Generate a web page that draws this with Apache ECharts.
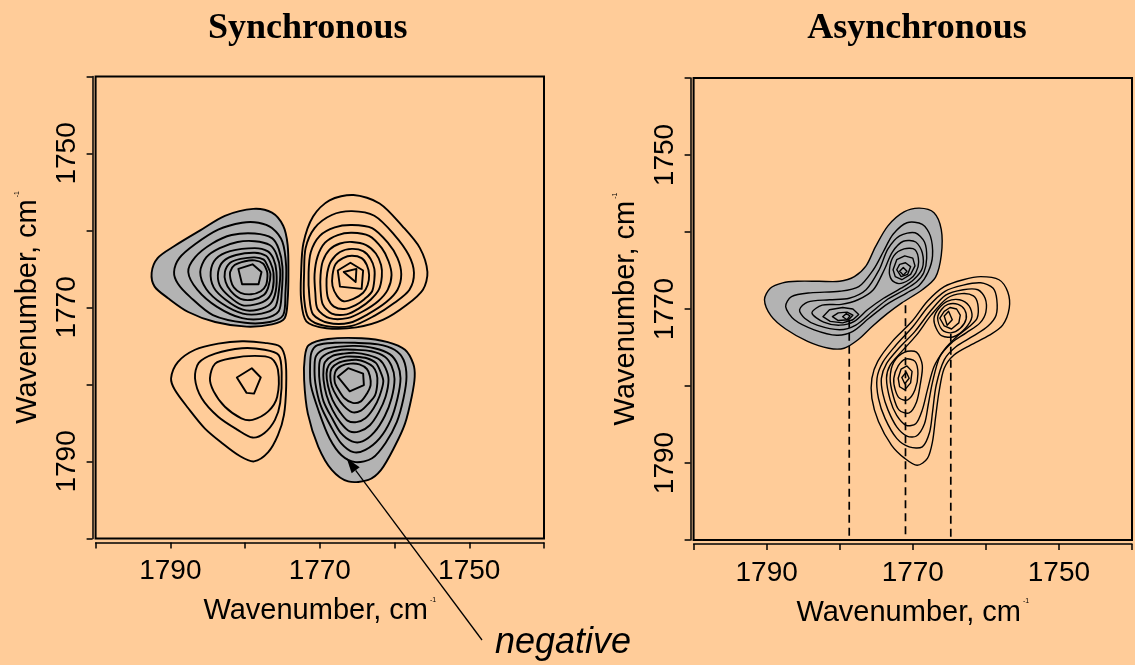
<!DOCTYPE html>
<html>
<head>
<meta charset="utf-8">
<title>Synchronous and asynchronous 2D correlation maps</title>
<script src="https://cdn.jsdelivr.net/npm/echarts@6/dist/echarts.min.js"></script>
<style>
  html, body { margin: 0; padding: 0; background: #FFCC99; }
  #chart { width: 1135px; height: 665px; }
</style>
</head>
<body>
<div id="chart"></div>
<script>
// ---- axes (wavenumber, cm-1) ----
const axisMin = 1740;
const axisMax = 1800;
const tickStep = 10;
const tickLabels = [1750, 1770, 1790];

// ---- synchronous map: contour lines as [x, y] wavenumber pairs, outermost level first ----
// negative cross peak (x ~1779, y ~1766)
const syncUpperLeft = [
  [[1792.5,1765.5],[1791.7,1763.6],[1789.4,1762.0],[1786.0,1760.0],[1782.7,1758.1],[1778.9,1757.2],[1776.4,1757.7],[1774.9,1759.4],[1774.3,1761.9],[1774.2,1765.5],[1774.3,1769.0],[1774.7,1771.4],[1776.4,1772.2],[1779.8,1772.5],[1784.0,1771.9],[1787.6,1770.6],[1790.3,1768.8],[1792.1,1767.3]],
  [[1789.5,1765.4],[1788.8,1763.6],[1786.7,1761.8],[1783.6,1759.9],[1780.4,1759.0],[1778.2,1759.0],[1776.4,1759.7],[1775.0,1761.5],[1774.5,1764.7],[1774.6,1768.1],[1774.9,1771.0],[1776.7,1771.9],[1780.0,1772.0],[1784.3,1771.0],[1787.4,1768.6],[1789.0,1766.9]],
  [[1787.6,1765.4],[1786.7,1763.5],[1784.4,1761.7],[1781.8,1760.6],[1778.7,1760.4],[1776.4,1761.0],[1775.5,1762.4],[1775.0,1764.7],[1775.1,1768.1],[1775.5,1770.5],[1777.2,1771.4],[1780.4,1771.4],[1783.8,1769.9],[1786.4,1767.7]],
  [[1786.0,1765.4],[1785.2,1763.5],[1783.4,1762.3],[1781.0,1761.5],[1778.7,1761.4],[1776.7,1761.9],[1775.8,1763.1],[1775.3,1765.2],[1775.5,1768.0],[1776.0,1770.0],[1777.8,1770.8],[1780.3,1770.8],[1783.1,1769.5],[1785.2,1767.6]],
  [[1784.6,1765.4],[1783.9,1763.7],[1782.0,1762.7],[1778.7,1762.3],[1777.0,1762.7],[1776.2,1763.7],[1775.8,1765.4],[1775.9,1767.9],[1776.6,1769.5],[1778.3,1770.3],[1780.3,1770.3],[1782.6,1769.0],[1784.2,1767.4]],
  [[1783.6,1765.4],[1782.9,1764.0],[1781.2,1763.2],[1778.7,1762.9],[1777.2,1763.3],[1776.6,1764.2],[1776.2,1765.5],[1776.3,1767.6],[1777.0,1768.9],[1778.6,1769.6],[1780.4,1769.7],[1782.2,1768.5],[1783.4,1767.1]],
  [[1782.7,1765.4],[1782.0,1764.2],[1780.6,1763.7],[1778.7,1763.5],[1777.5,1763.8],[1777.0,1764.6],[1776.6,1765.7],[1776.9,1767.4],[1777.5,1768.4],[1779.0,1769.0],[1780.6,1768.9],[1781.9,1767.9],[1782.6,1766.7]],
  [[1782.0,1765.4],[1781.4,1764.5],[1780.0,1764.0],[1778.7,1763.9],[1777.6,1764.3],[1777.1,1765.2],[1777.0,1765.9],[1777.2,1767.1],[1777.9,1767.9],[1779.2,1768.3],[1780.6,1768.1],[1781.5,1767.4],[1781.9,1766.5]],
  [[1780.9,1765.0],[1779.0,1764.4],[1777.8,1765.4],[1778.2,1767.0],[1780.4,1767.0]]
];
// positive auto peak (1766, 1766)
const syncUpperRight = [
  [[1765.5,1755.4],[1762.0,1756.5],[1758.9,1759.5],[1756.6,1762.3],[1755.6,1765.4],[1756.2,1767.7],[1758.4,1769.7],[1761.5,1771.6],[1765.1,1772.6],[1769.1,1772.7],[1771.8,1771.8],[1772.5,1769.0],[1772.5,1765.5],[1772.2,1761.7],[1770.9,1758.2],[1768.7,1756.1]],
  [[1765.7,1757.5],[1762.7,1758.1],[1760.0,1760.6],[1758.1,1763.2],[1757.4,1765.5],[1758.0,1767.7],[1760.0,1769.4],[1762.7,1771.1],[1765.7,1772.4],[1769.3,1772.4],[1771.5,1771.4],[1772.1,1768.8],[1772.1,1765.5],[1771.9,1762.3],[1770.7,1759.7],[1768.4,1758.0]],
  [[1765.7,1759.3],[1763.0,1759.7],[1760.9,1761.6],[1759.6,1763.6],[1759.1,1765.7],[1759.6,1767.7],[1761.1,1769.3],[1763.6,1770.9],[1766.0,1772.0],[1768.9,1772.0],[1770.9,1770.9],[1771.4,1768.6],[1771.5,1765.5],[1771.2,1762.8],[1770.0,1760.7],[1768.0,1759.6]],
  [[1765.7,1760.3],[1763.4,1760.7],[1761.7,1762.3],[1760.8,1764.0],[1760.4,1765.8],[1760.9,1767.7],[1762.2,1769.2],[1764.2,1770.5],[1766.3,1771.4],[1768.7,1771.4],[1770.3,1770.2],[1770.6,1768.1],[1770.7,1765.7],[1770.3,1763.4],[1769.3,1761.6],[1767.6,1760.6]],
  [[1765.7,1761.5],[1763.8,1761.9],[1762.5,1763.0],[1761.8,1764.5],[1761.7,1766.0],[1762.1,1767.7],[1763.2,1769.0],[1764.7,1770.1],[1766.4,1770.9],[1768.4,1770.8],[1769.6,1769.6],[1769.9,1767.7],[1769.9,1765.8],[1769.6,1764.0],[1768.7,1762.5],[1767.3,1761.7]],
  [[1765.7,1762.4],[1764.2,1762.7],[1763.2,1763.7],[1762.7,1765.0],[1762.7,1766.4],[1763.0,1767.9],[1764.0,1768.9],[1765.2,1769.7],[1766.7,1770.2],[1768.1,1769.9],[1768.9,1768.8],[1769.1,1767.2],[1769.0,1765.5],[1768.5,1764.0],[1767.3,1762.8]],
  [[1765.7,1763.3],[1764.4,1763.6],[1763.7,1764.5],[1763.4,1765.8],[1763.6,1767.1],[1764.2,1768.1],[1765.5,1768.9],[1766.8,1769.2],[1767.7,1768.5],[1768.3,1767.2],[1768.3,1765.8],[1767.9,1764.4],[1766.9,1763.6]],
  [[1767.6,1765.2],[1765.9,1764.2],[1764.2,1765.2],[1764.4,1767.6],[1767.3,1767.3]],
  [[1766.8,1765.4],[1765.1,1765.0],[1765.2,1766.7]]
];
// positive auto peak (1779, 1780)
const syncLowerLeft = [
  [[1789.9,1779.2],[1789.0,1777.1],[1786.7,1775.5],[1783.6,1774.7],[1780.4,1774.4],[1777.4,1774.6],[1775.3,1775.1],[1774.6,1776.8],[1774.5,1780.3],[1774.8,1784.0],[1775.6,1786.6],[1776.9,1788.8],[1778.8,1790.0],[1780.7,1789.3],[1783.1,1787.6],[1785.4,1785.7],[1787.6,1783.1],[1789.4,1780.7]],
  [[1786.7,1779.2],[1786.2,1777.2],[1784.0,1776.0],[1780.4,1775.3],[1777.4,1775.5],[1775.5,1776.2],[1775.1,1778.5],[1775.3,1782.4],[1776.0,1784.6],[1777.4,1786.3],[1779.0,1786.9],[1781.0,1785.9],[1783.6,1784.2],[1785.8,1781.8]],
  [[1784.7,1779.2],[1784.0,1777.3],[1781.8,1776.6],[1778.7,1776.3],[1776.5,1776.6],[1775.6,1778.1],[1775.7,1781.6],[1776.9,1783.5],[1779.0,1784.6],[1780.5,1784.4],[1782.7,1782.9],[1784.2,1780.9]],
  [[1781.1,1779.1],[1779.1,1777.9],[1777.9,1779.1],[1778.8,1781.2],[1779.8,1781.1]]
];
// negative cross peak (x ~1766, y ~1779)
const syncLowerRight = [
  [[1772.0,1776.4],[1771.5,1774.9],[1768.9,1774.1],[1764.4,1774.0],[1760.9,1774.5],[1758.6,1775.5],[1757.5,1777.3],[1757.3,1779.0],[1757.7,1781.6],[1758.6,1785.1],[1760.0,1788.1],[1761.8,1791.1],[1763.5,1792.4],[1766.2,1792.6],[1768.4,1791.1],[1770.2,1788.1],[1771.6,1783.8],[1772.1,1779.4]],
  [[1771.1,1775.8],[1770.3,1774.9],[1768.0,1774.6],[1765.3,1774.6],[1762.2,1774.8],[1760.0,1775.5],[1758.8,1776.8],[1758.4,1779.0],[1758.8,1781.8],[1759.7,1784.9],[1761.2,1787.6],[1763.0,1789.6],[1765.2,1790.1],[1767.1,1789.2],[1768.7,1787.0],[1770.1,1783.6],[1771.2,1780.1],[1771.3,1777.5]],
  [[1770.5,1776.3],[1769.3,1775.4],[1767.3,1775.1],[1765.3,1775.0],[1762.7,1775.3],[1760.6,1776.1],[1759.6,1777.4],[1759.2,1779.2],[1759.6,1781.8],[1760.5,1784.6],[1762.0,1787.0],[1763.9,1788.5],[1765.5,1788.8],[1767.1,1787.7],[1768.5,1785.5],[1769.9,1782.7],[1770.6,1779.8],[1770.7,1777.6]],
  [[1769.9,1776.7],[1768.8,1775.9],[1767.1,1775.5],[1765.3,1775.5],[1763.1,1775.7],[1761.3,1776.4],[1760.4,1777.6],[1760.0,1779.3],[1760.4,1781.8],[1761.3,1784.1],[1762.7,1786.2],[1764.3,1787.4],[1765.7,1787.4],[1767.2,1786.3],[1768.3,1784.5],[1769.5,1782.2],[1770.0,1779.8],[1770.1,1777.9]],
  [[1769.3,1777.1],[1768.3,1776.3],[1766.8,1776.0],[1765.3,1775.9],[1763.5,1776.2],[1762.0,1776.8],[1761.2,1777.9],[1760.8,1779.4],[1761.2,1781.6],[1762.1,1783.6],[1763.3,1785.3],[1764.7,1786.1],[1766.0,1786.1],[1767.2,1785.0],[1768.3,1783.3],[1769.1,1781.4],[1769.5,1779.4],[1769.5,1778.0]],
  [[1768.8,1777.5],[1767.9,1776.8],[1766.5,1776.4],[1765.2,1776.4],[1763.7,1776.6],[1762.5,1777.2],[1761.9,1778.3],[1761.5,1779.6],[1762.0,1781.5],[1762.8,1783.1],[1763.9,1784.4],[1765.1,1784.9],[1766.3,1784.7],[1767.3,1783.6],[1768.3,1782.0],[1768.9,1780.2],[1769.1,1778.6]],
  [[1768.4,1777.9],[1767.5,1777.2],[1766.3,1776.9],[1765.1,1776.8],[1763.9,1777.1],[1762.9,1777.7],[1762.4,1778.6],[1762.3,1779.8],[1762.6,1781.4],[1763.5,1782.5],[1764.5,1783.4],[1765.7,1783.6],[1766.8,1782.8],[1767.7,1781.6],[1768.4,1780.2],[1768.6,1778.9]],
  [[1767.9,1778.3],[1767.1,1777.6],[1765.9,1777.3],[1764.7,1777.4],[1763.7,1778.0],[1763.3,1778.9],[1763.2,1780.1],[1763.7,1781.2],[1764.5,1782.2],[1765.6,1782.4],[1766.7,1781.8],[1767.5,1780.7],[1768.0,1779.7]],
  [[1767.6,1779.0],[1766.2,1777.9],[1764.2,1778.6],[1764.1,1780.1],[1766.0,1780.9]]
];

// ---- asynchronous map ----
// negative region: peaks near (1779, 1771) and (1771, 1765)
const asyncNegative = [
  [[1790.3,1768.8],[1789.5,1767.3],[1787.8,1766.6],[1785.8,1766.4],[1782.8,1766.4],[1780.0,1766.4],[1778.0,1765.8],[1776.4,1764.4],[1775.1,1761.9],[1773.4,1759.2],[1771.2,1757.4],[1769.1,1756.9],[1767.1,1757.5],[1766.1,1759.7],[1766.1,1763.0],[1766.9,1765.9],[1768.7,1767.5],[1771.5,1769.2],[1773.5,1770.6],[1775.6,1772.3],[1777.5,1774.0],[1779.4,1775.1],[1781.5,1775.1],[1784.4,1774.2],[1787.4,1772.6],[1789.4,1770.9]],
  [[1787.4,1769.7],[1786.6,1768.4],[1784.0,1767.9],[1780.0,1767.7],[1777.4,1767.1],[1775.4,1764.9],[1774.0,1762.5],[1772.7,1760.3],[1770.8,1758.8],[1768.7,1759.0],[1767.6,1760.5],[1767.3,1763.1],[1767.9,1765.2],[1769.1,1766.9],[1770.8,1767.9],[1773.4,1769.3],[1776.0,1771.2],[1778.2,1772.9],[1780.4,1773.4],[1783.5,1772.7],[1786.2,1771.4]],
  [[1785.5,1770.1],[1784.4,1769.1],[1781.4,1768.8],[1778.7,1768.6],[1776.4,1767.5],[1774.6,1764.9],[1773.4,1762.2],[1771.8,1760.5],[1769.7,1760.1],[1768.4,1761.3],[1768.1,1763.4],[1768.5,1765.3],[1769.5,1766.5],[1771.1,1767.5],[1773.4,1768.7],[1775.5,1770.3],[1777.8,1772.1],[1780.0,1772.7],[1783.1,1772.1],[1784.8,1771.2]],
  [[1783.8,1770.5],[1782.4,1769.5],[1779.8,1769.4],[1777.5,1768.8],[1775.4,1767.5],[1773.9,1764.9],[1772.8,1762.6],[1771.3,1761.2],[1769.6,1761.3],[1768.7,1762.7],[1768.7,1764.7],[1769.9,1766.2],[1771.6,1767.3],[1774.0,1768.6],[1776.2,1770.1],[1778.0,1771.6],[1780.0,1772.1],[1782.2,1771.7]],
  [[1773.2,1764.9],[1772.6,1763.1],[1771.2,1762.2],[1769.7,1762.3],[1769.2,1763.9],[1769.6,1765.3],[1770.5,1766.2],[1771.9,1766.7],[1772.9,1766.2]],
  [[1772.7,1764.9],[1772.2,1763.6],[1771.1,1763.1],[1770.0,1763.4],[1769.7,1764.4],[1770.3,1765.5],[1771.5,1766.2],[1772.4,1765.8]],
  [[1772.2,1764.9],[1771.8,1764.2],[1771.0,1764.0],[1770.3,1764.5],[1770.7,1765.5],[1771.6,1765.8]],
  [[1771.8,1765.1],[1771.3,1764.6],[1770.8,1765.1],[1771.3,1765.6]],
  [[1782.3,1771.0],[1781.4,1770.1],[1779.6,1769.8],[1778.2,1770.0],[1777.4,1770.7],[1778.2,1771.4],[1779.6,1771.8],[1781.3,1771.6]],
  [[1781.0,1771.0],[1780.2,1770.5],[1779.0,1770.4],[1778.2,1770.8],[1778.8,1771.4],[1780.2,1771.5]],
  [[1779.6,1771.0],[1779.1,1770.6],[1778.6,1770.9],[1779.0,1771.4]]
];
// positive region: peaks near (1765, 1771) and (1771, 1779)
const asyncPositive = [
  [[1775.6,1779.0],[1774.8,1776.8],[1772.8,1774.2],[1770.1,1771.6],[1768.0,1769.0],[1765.7,1767.1],[1763.1,1766.2],[1760.7,1765.8],[1758.2,1766.2],[1757.0,1767.8],[1756.8,1769.9],[1757.7,1772.1],[1759.5,1773.4],[1762.1,1774.7],[1764.4,1776.0],[1765.7,1777.7],[1766.4,1780.7],[1766.9,1784.2],[1767.3,1787.2],[1768.0,1789.4],[1769.4,1790.3],[1771.1,1789.4],[1772.9,1787.7],[1774.7,1784.6],[1775.6,1781.6]],
  [[1774.9,1779.0],[1774.1,1776.9],[1772.4,1774.8],[1770.0,1772.3],[1767.9,1769.7],[1765.6,1767.7],[1763.1,1766.9],[1760.7,1766.6],[1759.0,1767.3],[1758.5,1768.8],[1758.6,1770.8],[1759.7,1772.2],[1761.7,1773.5],[1764.1,1774.9],[1765.7,1776.6],[1766.8,1779.9],[1767.3,1783.4],[1767.7,1786.0],[1768.7,1787.9],[1770.5,1787.9],[1772.2,1786.8],[1773.8,1784.2],[1774.7,1781.6]],
  [[1774.3,1779.0],[1773.6,1777.1],[1772.0,1775.2],[1769.7,1772.9],[1767.6,1770.3],[1765.5,1768.2],[1763.1,1767.5],[1761.1,1767.5],[1760.1,1768.6],[1760.0,1770.4],[1760.8,1771.8],[1762.7,1773.1],[1764.7,1774.4],[1766.3,1776.2],[1767.3,1779.5],[1767.9,1782.5],[1768.4,1784.9],[1769.5,1786.5],[1770.8,1786.5],[1772.2,1785.3],[1773.4,1783.1],[1774.1,1781.0]],
  [[1773.6,1779.0],[1773.1,1777.3],[1771.6,1775.6],[1769.5,1773.4],[1767.5,1770.8],[1765.3,1768.6],[1763.3,1768.0],[1761.7,1768.3],[1761.1,1769.4],[1761.2,1771.2],[1762.3,1772.3],[1764.0,1773.6],[1765.7,1775.3],[1767.1,1777.5],[1768.0,1780.5],[1768.7,1783.1],[1769.6,1784.9],[1770.9,1785.1],[1772.2,1783.8],[1773.1,1781.8]],
  [[1767.1,1771.2],[1766.5,1770.0],[1765.3,1769.0],[1763.6,1768.8],[1762.3,1769.6],[1761.9,1771.0],[1762.8,1772.5],[1764.4,1773.6],[1766.0,1773.5],[1766.8,1772.5]],
  [[1766.6,1771.2],[1766.1,1770.1],[1765.2,1769.4],[1763.8,1769.4],[1762.9,1770.1],[1762.7,1771.3],[1763.5,1772.5],[1764.8,1773.1],[1766.0,1772.7]],
  [[1766.3,1771.2],[1765.7,1770.3],[1764.9,1769.8],[1764.0,1770.0],[1763.5,1770.8],[1763.7,1771.8],[1764.7,1772.6],[1765.7,1772.2]],
  [[1765.7,1770.9],[1765.1,1770.3],[1764.6,1771.4],[1765.3,1772.1]],
  [[1773.1,1779.0],[1772.6,1776.9],[1771.1,1775.6],[1769.5,1775.6],[1768.7,1777.3],[1769.0,1779.9],[1769.5,1782.1],[1770.5,1783.5],[1771.9,1783.1],[1772.7,1781.2]],
  [[1772.6,1779.0],[1772.0,1777.4],[1771.0,1776.5],[1769.7,1776.8],[1769.3,1778.4],[1769.7,1780.5],[1770.7,1781.8],[1771.8,1781.6],[1772.4,1780.5]],
  [[1772.0,1779.0],[1771.6,1777.8],[1770.8,1777.4],[1770.1,1778.1],[1770.3,1779.6],[1771.1,1780.5],[1771.8,1780.1]],
  [[1771.5,1778.9],[1770.9,1778.2],[1770.5,1779.0],[1771.1,1779.7]]
];

// vertical guides dropped from the asynchronous peaks: x position and upper end
const guideX = [1778.7, 1771.0, 1764.8];
const guideTop = [1771.4, 1769.5, 1773.2];

// point on the negative synchronous lobe the annotation arrow points at
const arrowTarget = [1766.4, 1789.6];

// ---- drawing ----
const INK = '#000000';
const GREY = '#B3B3B3';
const SANS = '"Liberation Sans", Arial, Helvetica, sans-serif';
const SERIF = '"Liberation Serif", "Times New Roman", Times, serif';

const chart = echarts.init(document.getElementById('chart'), null, { renderer: 'canvas' });

// one custom series per panel; each item is one closed contour level
function contourSeries(lobes, panel, lineWidth) {
  const items = [];
  lobes.forEach(lobe => {
    lobe.levels.forEach((pts, k) => items.push({ pts: pts, filled: lobe.negative && k === 0 }));
  });
  return {
    type: 'custom',
    coordinateSystem: 'cartesian2d',
    xAxisIndex: panel,
    yAxisIndex: panel,
    silent: true,
    animation: false,
    z: 2,
    data: items.map(it => it.pts[0]),
    renderItem: function (params, api) {
      const it = items[params.dataIndex];
      const points = it.pts.map(p => api.coord(p));
      return {
        type: 'polygon',
        shape: { points: points, smooth: points.length > 8 ? 0.3 : 0 },
        style: {
          fill: it.filled ? GREY : 'none',
          stroke: INK,
          lineWidth: lineWidth,
          lineJoin: 'round'
        }
      };
    }
  };
}

function guideSeries(panel) {
  return guideX.map((x, i) => ({
    type: 'line',
    xAxisIndex: panel,
    yAxisIndex: panel,
    data: [[x, guideTop[i]], [x, axisMax]],
    symbol: 'none',
    silent: true,
    animation: false,
    z: 3,
    lineStyle: { color: INK, width: 1.7, type: [8, 5] }
  }));
}

const axisName = '{main|Wavenumber, cm}{sup|-1}';
const nameRich = {
  main: { fontSize: 29, fontFamily: SANS, color: INK },
  sup: { fontSize: 7, fontFamily: SANS, color: INK, verticalAlign: 'top', padding: [0, 0, 12, 2] }
};
const labelFmt = v => (tickLabels.indexOf(v) >= 0 ? String(v) : '');

function xAxisFor(panel) {
  return {
    gridIndex: panel, type: 'value', min: axisMin, max: axisMax, interval: tickStep,
    inverse: true, position: 'bottom', offset: 4,
    axisLine: { show: true, onZero: false, lineStyle: { color: INK, width: 1.5 } },
    axisTick: { show: true, inside: false, length: 6, lineStyle: { color: INK, width: 1.5 } },
    axisLabel: { show: true, margin: 15, fontSize: 28, fontFamily: SANS, color: INK, formatter: labelFmt },
    splitLine: { show: false },
    name: axisName, nameLocation: 'middle', nameGap: 54, nameMoveOverlap: false,
    nameTextStyle: { rich: nameRich }
  };
}

function yAxisFor(panel) {
  return {
    gridIndex: panel, type: 'value', min: axisMin, max: axisMax, interval: tickStep,
    inverse: true, position: 'left', offset: 3,
    axisLine: { show: true, onZero: false, lineStyle: { color: INK, width: 1.5 } },
    axisTick: { show: true, inside: false, length: 6, lineStyle: { color: INK, width: 1.5 } },
    axisLabel: { show: true, rotate: 90, margin: 11.5, fontSize: 28, fontFamily: SANS, color: INK, formatter: labelFmt },
    splitLine: { show: false },
    name: axisName, nameLocation: 'middle', nameGap: 50, nameMoveOverlap: false,
    nameTextStyle: { rich: nameRich }
  };
}

const option = {
  backgroundColor: '#FFCC99',
  animation: false,
  grid: [
    { left: 95.6, top: 76.4, width: 448.4, height: 462, show: true, borderColor: INK, borderWidth: 2, backgroundColor: 'transparent', containLabel: false },
    { left: 693.6, top: 78, width: 449, height: 462, show: true, borderColor: INK, borderWidth: 2, backgroundColor: 'transparent', containLabel: false }
  ],
  xAxis: [xAxisFor(0), xAxisFor(1)],
  yAxis: [yAxisFor(0), yAxisFor(1)],
  series: [
    contourSeries([
      { levels: syncUpperLeft, negative: true },
      { levels: syncUpperRight, negative: false },
      { levels: syncLowerLeft, negative: false },
      { levels: syncLowerRight, negative: true }
    ], 0, 1.9),
    contourSeries([
      { levels: asyncNegative, negative: true },
      { levels: asyncPositive, negative: false }
    ], 1, 1.4)
  ].concat(guideSeries(1))
};

chart.setOption(option);

// titles, the "negative" note and its arrow
const tip = chart.convertToPixel({ gridIndex: 0 }, arrowTarget);
const tail = [482, 640];
const dx = tip[0] - tail[0], dy = tip[1] - tail[1];
const len = Math.sqrt(dx * dx + dy * dy);
const ux = dx / len, uy = dy / len;
const headLen = 15, headHalf = 5;
const bx = tip[0] - ux * headLen, by = tip[1] - uy * headLen;

chart.setOption({
  graphic: [
    { type: 'text', x: 307.7, y: 29, z: 100,
      style: { text: 'Synchronous', font: 'bold 36px ' + SERIF, fill: INK, textAlign: 'center', textVerticalAlign: 'middle' } },
    { type: 'text', x: 917, y: 29, z: 100,
      style: { text: 'Asynchronous', font: 'bold 36px ' + SERIF, fill: INK, textAlign: 'center', textVerticalAlign: 'middle' } },
    { type: 'text', x: 495, y: 643, z: 100,
      style: { text: 'negative', font: 'italic 36px ' + SANS, fill: INK, textAlign: 'left', textVerticalAlign: 'middle' } },
    { type: 'line', z: 100,
      shape: { x1: tail[0], y1: tail[1], x2: bx, y2: by },
      style: { stroke: INK, lineWidth: 1.3 } },
    { type: 'polygon', z: 100,
      shape: { points: [[tip[0], tip[1]], [bx + uy * headHalf, by - ux * headHalf], [bx - uy * headHalf, by + ux * headHalf]] },
      style: { fill: INK } }
  ]
});
</script>
</body>
</html>
